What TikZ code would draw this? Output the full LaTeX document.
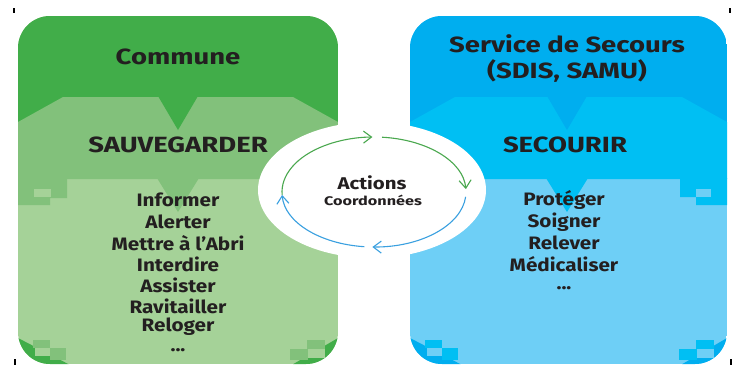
\documentclass[tikz,border=0pt]{standalone}
\usepackage{fontspec}
\setmainfont{Fira Sans}
\usetikzlibrary{shapes.geometric,arrows.meta}
\definecolor{gD}{HTML}{41AD49}
\definecolor{gM}{HTML}{82C17B}
\definecolor{gL}{HTML}{A5D298}
\definecolor{bD}{HTML}{00AEEF}
\definecolor{bM}{HTML}{00BFF3}
\definecolor{bL}{HTML}{6ECFF6}
\definecolor{txt}{HTML}{231F20}
\definecolor{arG}{HTML}{4AA84F}
\definecolor{arB}{HTML}{3AA0E0}
\newcommand{\wideA}[1]{\scalebox{1.25}[1]{#1}}
\newcommand{\wideB}[1]{\scalebox{1.15}[1]{#1}}
\tikzset{
  title/.style={text=txt,font=\bfseries\fontsize{22}{24}\selectfont,inner sep=0pt},
  item/.style={text=txt,font=\bfseries\fontsize{18}{21}\selectfont,inner sep=0pt},
  cyc/.style={line width=1.1pt,-{Straight Barb[length=8pt,width=12pt]}},
  cropmark/.style={line width=1.6pt,black}
}
\begin{document}
\begin{tikzpicture}[x=1pt,y=-1pt]
\useasboundingbox (0,0) rectangle (740,365);
% ---------- left box ----------
\begin{scope}
\clip[rounded corners=32pt] (18,16) rectangle (338,364);
\fill[gL] (18,16) rectangle (338,364);
\fill[gD] (18,16) rectangle (338,179);
\fill[gM] (18,122) -- (63,97) -- (293,97) -- (338,122) -- (338,179) -- (18,179) -- cycle;
\fill[gD] (158,96) -- (198,96) -- (178,130) -- cycle;
\fill[gM] (157,178) -- (199,178) -- (178,212) -- cycle;
\fill[gM] (18,178) -- (67,178) -- (67,198) -- (50,198) -- (50,205) -- (18,205) -- cycle;
\fill[gL] (34,189) rectangle (51,197);
% bottom corners
\fill[gD] (18,338) -- (72,366) -- (18,366) -- cycle;
\fill[gM] (33,340) rectangle (50,348);
\fill[gM] (50,348) rectangle (66,360);
\fill[gL] (35,348) rectangle (50,356);
\fill[gD] (338,338) -- (290,366) -- (338,366) -- cycle;
\fill[gM] (307,340) rectangle (325,349);
\fill[gM] (290,349) rectangle (308,360);
\fill[gL] (308,349) rectangle (325,358);
\end{scope}
% ---------- right box ----------
\begin{scope}
\clip[rounded corners=32pt] (410,16) rectangle (727,364);
\fill[bL] (410,16) rectangle (727,364);
\fill[bD] (410,16) rectangle (727,179);
\fill[bM] (410,122) -- (455,97) -- (682,97) -- (727,122) -- (727,179) -- (410,179) -- cycle;
\fill[bD] (547,96) -- (587,96) -- (567,130) -- cycle;
\fill[bM] (546,178) -- (588,178) -- (567,212) -- cycle;
\fill[bM] (680,178) -- (727,178) -- (727,205) -- (696,205) -- (696,197) -- (680,197) -- cycle;
\fill[bL] (696,189) rectangle (711,197);
\fill[bD] (410,338) -- (464,366) -- (410,366) -- cycle;
\fill[bM] (425,340) rectangle (442,348);
\fill[bM] (442,348) rectangle (458,360);
\fill[bL] (427,348) rectangle (442,356);
\fill[bD] (727,338) -- (679,366) -- (727,366) -- cycle;
\fill[bM] (696,340) rectangle (714,349);
\fill[bM] (679,349) rectangle (697,360);
\fill[bL] (697,349) rectangle (714,358);
\end{scope}
% ---------- centre ellipse ----------
\node[ellipse,fill=white,minimum width=228pt,minimum height=136pt,inner sep=0pt] (act) at (372,190) {};
\coordinate (cc) at (374,192);
\draw[cyc,arG] (cc) ++(-183:92 and 55) arc[start angle=-183,end angle=-91,x radius=92,y radius=55];
\draw[cyc,arG] (cc) ++(-85:92 and 55) arc[start angle=-85,end angle=-3,x radius=92,y radius=55];
\draw[cyc,arB] (cc) ++(5:92 and 55) arc[start angle=5,end angle=91,x radius=92,y radius=55];
\draw[cyc,arB] (cc) ++(96:92 and 55) arc[start angle=96,end angle=177,x radius=92,y radius=55];
\node[text=txt,font=\bfseries\fontsize{17}{19}\selectfont,inner sep=0pt] (a1) at (372,183) {\scalebox{1.2}[1]{Actions}};
\node[text=txt,font=\bfseries\fontsize{12.5}{14}\selectfont,inner sep=0pt] (a2) at (373,200) {\scalebox{1.3}[1]{Coordonnées}};
% ---------- texts ----------
\node[title] (commune) at (178,57) {\wideA{Commune}};
\node[title] (sauv) at (178,145) {\wideA{SAUVEGARDER}};
\node[item] (l1) at (178,200) {\wideB{Informer}};
\node[item] (l2) at (178,222) {\wideB{Alerter}};
\node[item] (l3) at (178,243) {\wideB{Mettre à l’Abri}};
\node[item] (l4) at (178,264) {\wideB{Interdire}};
\node[item] (l5) at (178,285) {\wideB{Assister}};
\node[item] (l6) at (178,306) {\wideB{Ravitailler}};
\node[item] (l7) at (178,327) {\wideB{Reloger}};
\node[item] (l8) at (178,350) {\wideB{...}};
\node[title] (serv) at (567,44) {\wideA{Service de Secours}};
\node[title] (sdis) at (567,71) {\wideA{(SDIS, SAMU)}};
\node[title] (sec) at (565,145) {\wideA{SECOURIR}};
\node[item] (r1) at (564,200) {\wideB{Protéger}};
\node[item] (r2) at (564,222) {\wideB{Soigner}};
\node[item] (r3) at (564,243) {\wideB{Relever}};
\node[item] (r4) at (564,264) {\wideB{Médicaliser}};
\node[item] (r5) at (564,288) {\wideB{...}};
% crop marks
\coordinate (m1a) at (14,8); \coordinate (m1b) at (14,13);
\coordinate (m2a) at (730,8); \coordinate (m2b) at (730,13);
\coordinate (m3a) at (15,359); \coordinate (m3b) at (15,365);
\coordinate (m4a) at (731,359); \coordinate (m4b) at (731,365);
\draw[cropmark] (m1a) -- (m1b);
\draw[cropmark] (m2a) -- (m2b);
\draw[cropmark] (m3a) -- (m3b);
\draw[cropmark] (m4a) -- (m4b);
\end{tikzpicture}
\end{document}
